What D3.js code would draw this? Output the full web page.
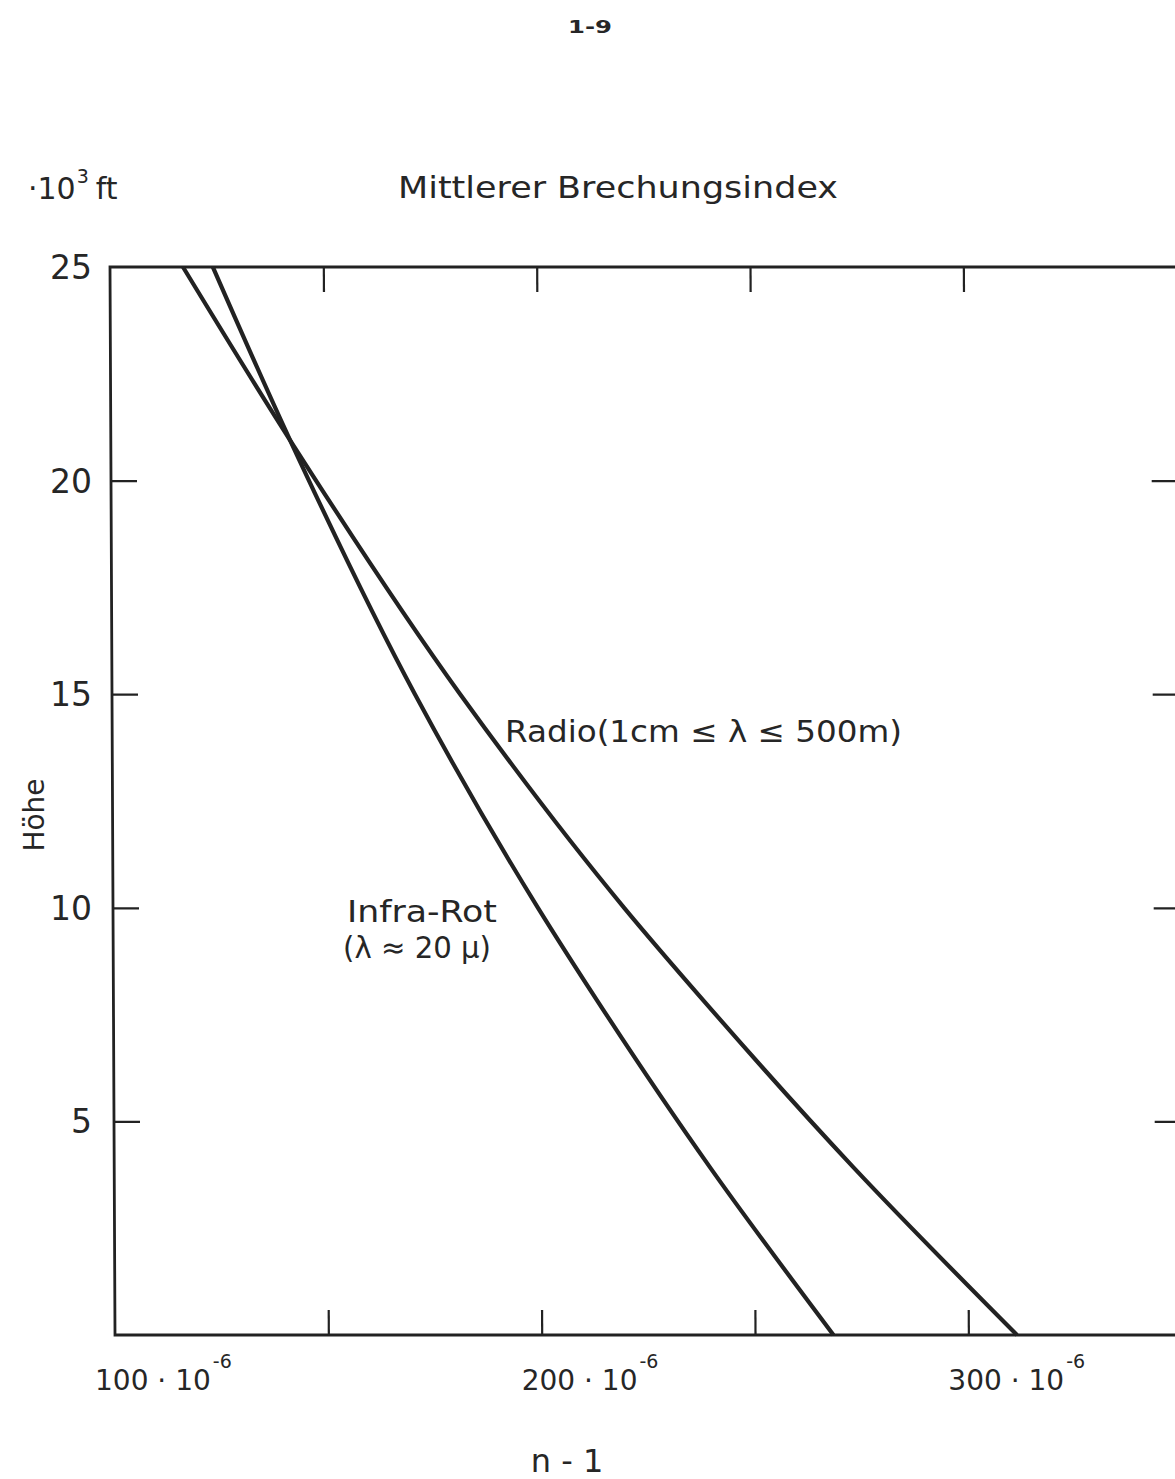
<!DOCTYPE html>
<html><head><meta charset="utf-8">
<script src="https://cdn.jsdelivr.net/npm/d3@7"></script>
<style>
html,body{margin:0;padding:0;background:#fff;}
svg{display:block;}
text{font-family:"DejaVu Sans",sans-serif;fill:#262626;}
</style></head>
<body><svg id="c" width="1175" height="1479"></svg>
<script>
// ---- data ----
const xTicks = [100, 150, 200, 250, 300];
const xTickLabels = [100, 200, 300];
const yTicks = [5, 10, 15, 20, 25];
const radioHeights = [0, 3.93, 7.84, 10, 15, 20.95, 25];
const radioValues  = [311.4, 273.2, 238.2, 219.8, 181.6, 142.0, 117.1];
const infraHeights = [0, 3.93, 7.84, 10, 15, 20.95, 25];
const infraValues  = [268.4, 239.6, 213.3, 199.6, 171.0, 142.0, 124.1];

const svg = d3.select("#c");
const x = d3.scaleLinear().domain([100, 350]).range([115, 1181.7]);
const y = d3.scaleLinear().domain([0, 25]).range([1335, 267]);
const k = 5 / 1068; // slight scan skew
const g = svg.append("g").attr("transform", `matrix(1,0,${k},1,${-k*1335},0)`);
const ink = "#222";

// frame
g.append("rect").attr("x", x(100)).attr("y", y(25)).attr("width", x(350)-x(100)).attr("height", y(0)-y(25))
  .attr("fill","none").attr("stroke",ink).attr("stroke-width",2.8);

const tickStyle = sel => { sel.select(".domain").remove(); sel.selectAll("line").attr("stroke",ink).attr("stroke-width",2.2); sel.selectAll("text").remove(); };
const inner = xTicks.filter(v => v > 100);
g.append("g").attr("transform",`translate(0,${y(0)})`)
  .call(d3.axisBottom(x).tickValues(inner).tickSize(-25).tickFormat("")).call(tickStyle);
g.append("g").attr("transform",`translate(0,${y(25)})`)
  .call(d3.axisTop(x).tickValues(inner).tickSize(-25).tickFormat("")).call(tickStyle);
const yInner = yTicks.filter(v => v < 25);
g.append("g").attr("transform",`translate(${x(100)},0)`)
  .call(d3.axisLeft(y).tickValues(yInner).tickSize(-26).tickFormat("")).call(tickStyle);
g.append("g").attr("transform",`translate(${x(350)},0)`)
  .call(d3.axisRight(y).tickValues(yInner).tickSize(-26).tickFormat("")).call(tickStyle);

// curves
const line = d3.line().x(d => x(d[1])).y(d => y(d[0])).curve(d3.curveMonotoneY);
const radio = radioHeights.map((h,i)=>[h, radioValues[i]]);
const infra = infraHeights.map((h,i)=>[h, infraValues[i]]);
[radio, infra].forEach(s => g.append("path").attr("d", line(s)).attr("fill","none")
  .attr("stroke",ink).attr("stroke-width",4.2).attr("stroke-linejoin","round"));

// texts
svg.append("text").attr("x",590).attr("y",33).attr("text-anchor","middle").attr("font-size",18).attr("font-weight","bold")
  .attr("textLength",44).attr("lengthAdjust","spacingAndGlyphs").text("1-9");

const u1 = svg.append("text").attr("x",28).attr("y",199).attr("font-size",30).text("·10");
const u1w = u1.node().getComputedTextLength();
const u2 = svg.append("text").attr("x",28+u1w+1).attr("y",183).attr("font-size",19).text("3");
const u2w = u2.node().getComputedTextLength();
svg.append("text").attr("x",28+u1w+u2w+8).attr("y",199).attr("font-size",30).text("ft");

svg.append("text").attr("x",618).attr("y",198).attr("text-anchor","middle").attr("font-size",30)
  .attr("textLength",440).attr("lengthAdjust","spacingAndGlyphs").text("Mittlerer Brechungsindex");

svg.append("text").attr("transform","translate(44,815) rotate(-90)").attr("text-anchor","middle").attr("font-size",28).text("Höhe");

yTicks.forEach(v => {
  svg.append("text").attr("x",92).attr("y",y(v)+12).attr("text-anchor","end").attr("font-size",33).text(v);
});

xTickLabels.forEach(v => {
  const x0 = x(v) - 20;
  const t = svg.append("text").attr("x", x0).attr("y",1390).attr("font-size",28).text(v + " · 10");
  const w = t.node().getComputedTextLength();
  svg.append("text").attr("x", x0 + w + 2).attr("y",1368).attr("font-size",19).text("-6");
});

svg.append("text").attr("x",567).attr("y",1472).attr("text-anchor","middle").attr("font-size",32).text("n - 1");

svg.append("text").attr("x",505).attr("y",742).attr("font-size",30)
  .attr("textLength",397).attr("lengthAdjust","spacingAndGlyphs").text("Radio(1cm ≤ λ ≤ 500m)");
svg.append("text").attr("x",347).attr("y",922).attr("font-size",30)
  .attr("textLength",150).attr("lengthAdjust","spacingAndGlyphs").text("Infra-Rot");
svg.append("text").attr("x",343).attr("y",958).attr("font-size",30)
  .attr("textLength",148).attr("lengthAdjust","spacingAndGlyphs").text("(λ ≈ 20 μ)");
</script></body></html>
